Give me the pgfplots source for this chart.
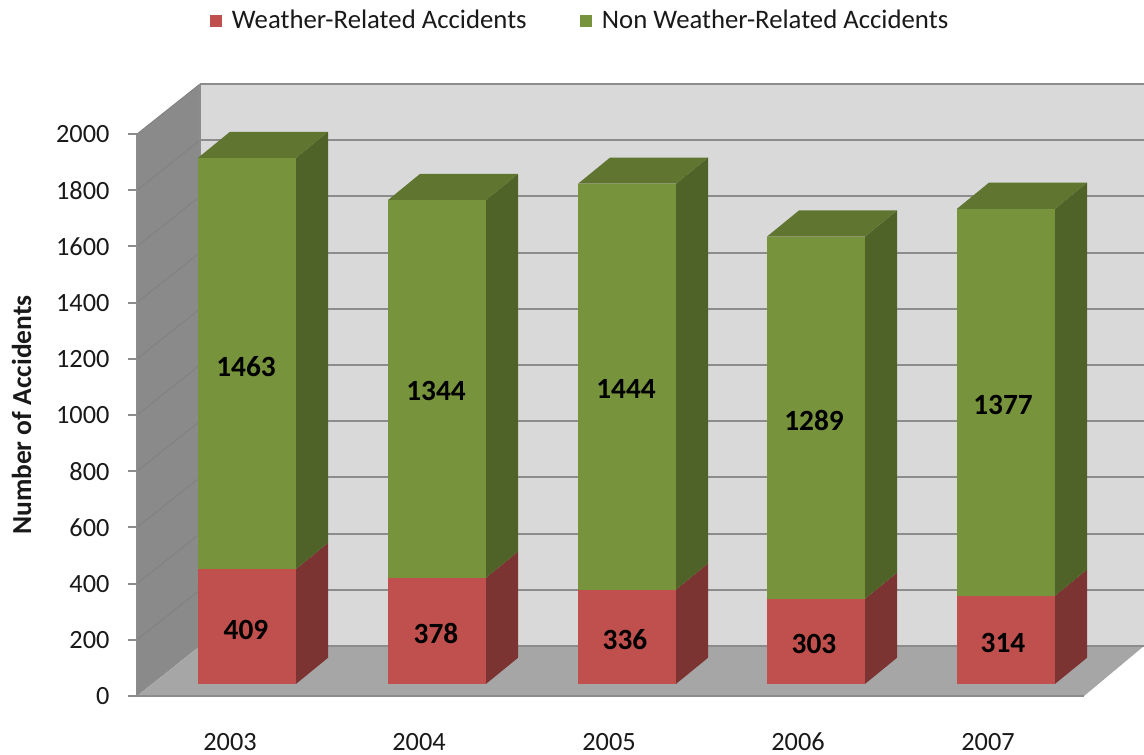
\documentclass[border=0pt]{standalone}
\usepackage{fontspec}
\setmainfont{Carlito}
\usepackage{pgfplots}
\pgfplotsset{compat=1.18}

\definecolor{wallback}{HTML}{D9D9D9}
\definecolor{wallside}{HTML}{8A8A8A}
\definecolor{wallfloor}{HTML}{A6A6A6}
\definecolor{gridc}{HTML}{8C8C8C}
\definecolor{sidegrid}{HTML}{808080}
\definecolor{redfront}{HTML}{C0504D}
\definecolor{redside}{HTML}{7B3431}
\definecolor{greenfront}{HTML}{77933C}
\definecolor{greenside}{HTML}{4F6228}
\definecolor{greentop}{HTML}{5F7530}

% one picture pixel = 0.6pt
\newlength{\px}
\setlength{\px}{0.6pt}

% x is in picture pixels, y in accidents; a bar stands 43 above the front floor
% #1 left edge of the front face, #2 weather, #3 non weather
\newcommand{\stackbar}[3]{%
  \pgfmathsetmacro{\xa}{#1}
  \pgfmathsetmacro{\xb}{#1+98}
  \pgfmathsetmacro{\xc}{#1+130}
  \pgfmathsetmacro{\xd}{#1+32}
  \pgfmathsetmacro{\ya}{43}
  \pgfmathsetmacro{\yb}{43+#2}
  \pgfmathsetmacro{\yc}{43+#2+#3}
  \pgfmathsetmacro{\yaa}{\ya+93}
  \pgfmathsetmacro{\ybb}{\yb+93}
  \pgfmathsetmacro{\ycc}{\yc+93}
  \addplot[fill=redside,draw=none,forget plot] coordinates {(\xb,\ya) (\xc,\yaa) (\xc,\ybb) (\xb,\yb)} -- cycle;
  \addplot[fill=greenside,draw=none,forget plot] coordinates {(\xb,\yb) (\xc,\ybb) (\xc,\ycc) (\xb,\yc)} -- cycle;
  \addplot[fill=greentop,draw=none,forget plot] coordinates {(\xa,\yc) (\xb,\yc) (\xc,\ycc) (\xd,\ycc)} -- cycle;
  \addplot[fill=redfront,draw=none,forget plot] coordinates {(\xa,\ya) (\xb,\ya) (\xb,\yb) (\xa,\yb)} -- cycle;
  \addplot[fill=greenfront,draw=none,forget plot] coordinates {(\xa,\yb) (\xb,\yb) (\xb,\yc) (\xa,\yc)} -- cycle;
}

\begin{document}
\begin{tikzpicture}
\path[use as bounding box] (0,0) rectangle (1144\px,755\px);
\begin{axis}[
    at={(137\px,59\px)},
    anchor=south west,
    scale only axis,
    width=1007\px,
    height=612\px,
    xmin=137, xmax=1144,
    ymin=0, ymax=2178,
    clip=false,
    axis line style={draw=none},
    tick align=outside,
    major tick length=5.4pt,
    ytick={0,200,...,2000},
    xtick={230,419,609,798,988},
    xticklabels={2003,2004,2005,2006,2007},
    y tick style={gridc,line width=1.2pt},
    x tick style={draw=none},
    xtick pos=bottom,
    ytick pos=left,
    tick label style={font=\fontsize{15.8}{18}\selectfont,text=black!90},
    /pgf/number format/assume math mode=true,
    /pgf/number format/1000 sep={},
    yticklabel style={xshift=-7.6pt},
    xticklabel style={yshift=-12.6pt,text height=11pt,text depth=0pt},
    ylabel={Number of Accidents},
    every axis y label/.style={at={(rel axis cs:-0.1145,0.459)},rotate=90,anchor=center,
        font=\fontsize{16.5}{18}\selectfont\bfseries,text=black!90},
    legend style={at={(rel axis cs:0.0671,1.104)},anchor=west,draw=none,fill=none,
        legend columns=2,font=\fontsize{16.05}{18}\selectfont,text=black!90,
        /tikz/every even column/.append style={column sep=30pt}},
    legend cell align=left,
    legend image code/.code={\fill[#1] (0pt,-3.3pt) rectangle (6.6pt,3.3pt);\path (10.8pt,0pt);},
]
% walls and floor
\addplot[fill=wallback,draw=none,forget plot] coordinates {(200,178) (1144,178) (1144,2178) (200,2178)} -- cycle;
\addplot[fill=wallside,draw=none,forget plot] coordinates {(137,0) (200,178) (200,2178) (137,2000)} -- cycle;

% gridlines over the wall and the side
\pgfplotsinvokeforeach{200,400,...,2000}{
  \pgfmathsetmacro{\gy}{#1+178}
  \addplot[sidegrid,line width=0.5pt,forget plot] coordinates {(137,#1) (200,\gy)};
  \addplot[gridc,line width=1.2pt,forget plot] coordinates {(200,\gy) (1144,\gy)};
}
\addplot[fill=wallfloor,draw=none,forget plot] coordinates {(137,0) (1084,0) (1144,178) (200,178)} -- cycle;
\addplot[gridc,line width=1.2pt,forget plot] coordinates {(200,178) (1144,178)};
\addplot[gridc,line width=1.2pt,forget plot] coordinates {(137,0) (1084,0)};
\addplot[gridc,line width=1pt,forget plot] coordinates {(137,0) (137,2000)};
\addplot[gridc,line width=1pt,forget plot] coordinates {(200,178) (200,2178)};

\stackbar{198}{409}{1463}
\stackbar{388}{378}{1344}
\stackbar{578}{336}{1444}
\stackbar{767}{303}{1289}
\stackbar{957}{314}{1377}

\addlegendimage{redfront}
\addlegendentry{Weather-Related Accidents}
\addlegendimage{greenfront}
\addlegendentry{Non Weather-Related Accidents}

% data labels
\tikzset{lab/.style={font=\fontsize{17.6}{20}\selectfont\bfseries,text=black}}
\node[lab] at (axis cs:246,1174) {1463};
\node[lab] at (axis cs:436,1085) {1344};
\node[lab] at (axis cs:626,1093) {1444};
\node[lab] at (axis cs:814,979) {1289};
\node[lab] at (axis cs:1003,1036) {1377};
\node[lab] at (axis cs:246,235) {409};
\node[lab] at (axis cs:436,224) {378};
\node[lab] at (axis cs:625,199) {336};
\node[lab] at (axis cs:814,185) {303};
\node[lab] at (axis cs:1003,189) {314};
\end{axis}
\end{tikzpicture}
\end{document}
